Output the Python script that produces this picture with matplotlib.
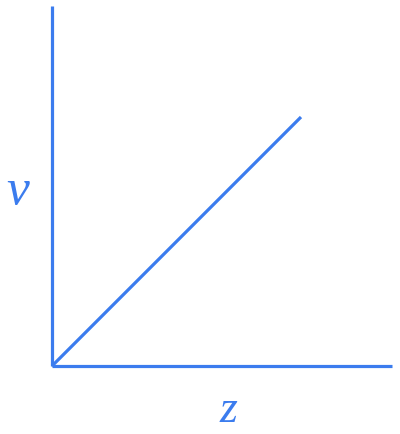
import matplotlib
matplotlib.use("Agg")
import matplotlib.pyplot as plt

# Data: linear relation v proportional to z
z_values = [0.0, 1.0]
v_values = [0.0, 1.0]
x_label = "z"
y_label = "v"

BLUE = "#3b7cee"
W, H, DPI = 400, 435, 100

fig = plt.figure(figsize=(W / DPI, H / DPI), dpi=DPI)
fig.patch.set_facecolor("white")

# axes box: origin at pixel (52, 367), x-axis to 392, y-axis up to 7
left, bottom = 52 / W, (H - 367) / H
width, height = (392 - 52) / W, (367 - 7) / H
ax = fig.add_axes([left, bottom, width, height])
ax.set_facecolor("none")

scale = 249.0  # pixels per unit
ax.set_xlim(0, (392 - 52) / scale)
ax.set_ylim(0, (367 - 7) / scale)

ax.plot(z_values, v_values, color=BLUE, lw=2.3, solid_capstyle="butt", clip_on=False)

for s in ["top", "right"]:
    ax.spines[s].set_visible(False)
for s in ["left", "bottom"]:
    ax.spines[s].set_color(BLUE)
    ax.spines[s].set_linewidth(2.3)
    ax.spines[s].set_capstyle("butt")
ax.set_xticks([])
ax.set_yticks([])

fig.text(18 / W, 1 - 192 / H, y_label, color=BLUE, fontsize=37,
         family="Liberation Serif", style="italic",
         ha="center", va="center")
fig.text(228 / W, 1 - 411 / H, x_label, color=BLUE, fontsize=33,
         family="Liberation Serif", style="italic",
         ha="center", va="center")

fig.savefig("out.png", dpi=DPI, facecolor="white")
